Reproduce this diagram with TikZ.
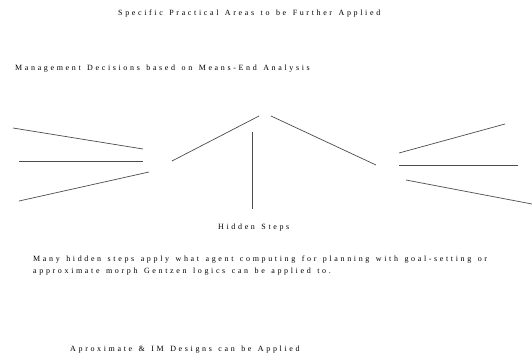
\documentclass[tikz,border=0pt]{standalone}
\usepackage{fontspec}
\newfontfamily\spaced[LetterSpace=33,WordSpace=1.4]{Liberation Serif}
\begin{document}
\begin{tikzpicture}[x=1pt,y=-1pt,
        label/.style={anchor=base west, inner sep=0pt, font=\spaced\fontsize{8}{11.5}\selectfont},
        spoke/.style={line width=0.7pt, black!70}]
        \useasboundingbox (0,0) rectangle (532,356);
        \node (areas) [label] at (118,16) {Specific Practical Areas to be Further Applied};
        \node (decisions) [label] at (15,70) {Management Decisions based on Means-End Analysis};
        
        % left fan
        \draw[spoke] (13,128) -- (143,149);
        \draw[spoke] (19,161) -- (143,161);
        \draw[spoke] (19,201) -- (149,172);
        % roof and middle
        \draw[spoke] (172,161) -- (259,116);
        \draw[spoke] (271,116) -- (376,165);
        \draw[spoke] (252,132) -- (252,209);
        % right fan
        \draw[spoke] (399,153) -- (505,124);
        \draw[spoke] (399,165) -- (518,165);
        \draw[spoke] (406,180) -- (532,204);
        
        \node (hidden) [label] at (218,229) {Hidden Steps};
        \node (many) [label, align=left] at (33,273) {Many hidden steps apply what agent computing for planning with goal-setting or\\approximate morph Gentzen logics can be applied to.};
        \node (designs) [label] at (70,351) {Aproximate \& IM Designs can be Applied};
    \end{tikzpicture}
\end{document}
